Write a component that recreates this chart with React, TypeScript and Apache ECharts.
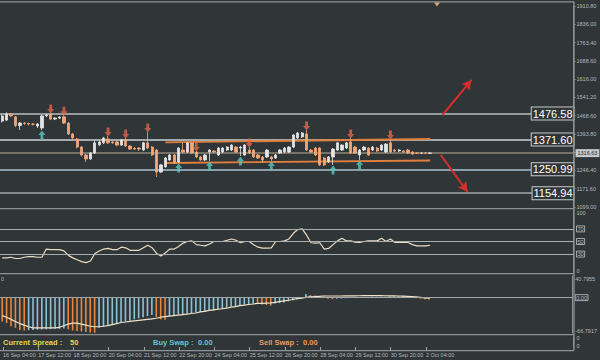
import React, { useEffect, useRef } from 'react';
import * as echarts from 'echarts';

// ---- data ----
const dateLabels = ['16 Sep 04:00', '17 Sep 12:00', '18 Sep 20:00', '20 Sep 04:00', '21 Sep 12:00', '22 Sep 20:00', '24 Sep 04:00', '25 Sep 12:00', '26 Sep 20:00', '28 Sep 04:00', '29 Sep 12:00', '30 Sep 20:00', '2 Oct 04:00'];
const SLOTS = 130; // 4H slots across the window (chart shifted left)

const opens = [1446,1450,1475,1463,1428,1438,1436,1434,1426,1418, 1467,1475,1454,1458,1463,1438,1394,1374,1341,1309, 1293,1317,1350,1358,1374,1362,1362,1349,1370,1345, 1336,1337,1329,1358,1341,1329,1240,1261,1289,1309, 1281,1329,1321,1358,1321,1301,1289,1321,1325,1309, 1321,1329,1329,1341,1337,1309,1329,1329,1309,1301, 1301,1301,1297,1317,1321,1321,1341,1378,1382,1394, 1329,1337,1337,1297,1281,1301,1329,1329,1337,1362, 1341,1309,1329,1337,1329,1337,1329,1321,1358,1329, 1325,1325,1329,1321,1317,1316,1317,1316];
const closes = [1467,1475,1467,1428,1438,1436,1434,1433,1434,1467, 1471,1454,1458,1462,1438,1394,1378,1341,1309,1293, 1317,1358,1362,1378,1358,1358,1349,1370,1345,1333, 1333,1333,1358,1337,1309,1240,1269,1297,1309,1277, 1337,1321,1358,1317,1301,1289,1309,1329,1321,1337, 1337,1341,1349,1321,1341,1349,1317,1301,1297,1289, 1329,1293,1309,1329,1337,1341,1390,1398,1398,1329, 1321,1309,1269,1269,1301,1333,1358,1349,1358,1317, 1317,1329,1341,1309,1341,1325,1349,1353,1321,1325, 1329,1321,1317,1313,1316,1317,1316,1317];
const lows = [1440,1446,1462,1422,1410,1430,1428,1428,1418,1410, 1462,1450,1450,1454,1434,1390,1372,1336,1303,1281, 1289,1313,1345,1353,1353,1354,1345,1345,1341,1329, 1329,1325,1325,1333,1305,1220,1236,1257,1285,1273, 1277,1315,1317,1313,1297,1285,1285,1285,1317,1305, 1317,1325,1325,1317,1305,1305,1313,1297,1293,1277, 1297,1285,1293,1313,1317,1317,1337,1374,1378,1325, 1317,1305,1265,1265,1277,1269,1325,1325,1333,1313, 1313,1289,1325,1305,1325,1321,1325,1317,1317,1321, 1321,1317,1313,1309,1313,1313,1313,1313];
const highs = [1471,1481,1479,1467,1442,1442,1440,1438,1438,1471, 1475,1479,1462,1466,1470,1442,1398,1378,1345,1313, 1321,1366,1366,1382,1386,1366,1366,1374,1378,1349, 1341,1341,1362,1402,1345,1333,1273,1301,1313,1313, 1341,1358,1362,1362,1325,1305,1313,1333,1329,1341, 1341,1345,1353,1345,1345,1353,1341,1333,1313,1305, 1333,1305,1313,1333,1341,1345,1394,1402,1402,1410, 1333,1341,1341,1301,1305,1337,1362,1353,1362,1378, 1345,1333,1345,1341,1345,1341,1353,1357,1374,1333, 1333,1329,1333,1325,1321,1320,1321,1319];

const buySignals = [9, 40, 47, 54, 61, 75, 81];
const sellSignals = [11, 14, 24, 28, 33, 44, 56, 69, 79, 88];

const levels = [1476.58, 1371.60, 1250.99, 1154.94];
const currentPrice = 1316.63;
const upperChannel = [[37, 1360], [97, 1373.6]];
const lowerChannel = [[37, 1276.7], [97, 1286.8]];
const upArrow = [[99.8, 1470.6], [106.4, 1612]];
const downArrow = [[99.4, 1309], [105.5, 1159.6]];

const priceTicks = [1099.00, 1171.60, 1246.40, 1318.60, 1393.80, 1468.60, 1541.20, 1616.00, 1688.60, 1763.40, 1836.00, 1910.80];

const rsi = [24, 24,25,23,23,25,26,26,25,25,38, 37,37,37,35,28,24,21,18,16.5,19, 31,35,38,39,37,37,41,40,36,36, 36,40,44,40,31,27,32,38,38,42, 47.5,50,51,45,44,43,46,50,50,50, 52,54,52,48,50,50,45,41,39.5,39.5, 40,50,50,51,54,63,69,70,60,48, 47.5,48,38,39,45,51,55,51,51,49, 48.5,50,51,51,51,55,50,54,48.5,48.5, 48.5,48.5,45,43,43,43,44];
const rsiLevels = [70, 50, 30];

const macdHist = [-45, -48,-54,-57,-61,-62,-61.5,-61,-60.5,-60,-60, -59.5,-59,-59,-58.5,-60,-62,-63,-64,-65,-66, -66.5,-57,-55,-53,-51,-49,-47,-45,-43,-41, -39,-37,-35,-33,-37,-41,-42,-35,-33,-32, -31,-30,-29,-28,-27,-26,-25,-24,-22,-21, -19,-17,-16,-15,-13,-12,-11,-12,-13,-14, -15,-11,-10,-9,-7,-5,-3,-1,7,5, 4,3,2,-2,-3,-2,-1.5,-1,-0.5,0, 0.5,1,1.2,1.4,1.5,1.6,1.8,2,2.1,2.2, 2.3,2.4,2.5,-1,-2,-3,-3.5];
const macdSignal = [-34, -37,-41,-45,-49,-52,-55,-57,-57,-57,-57, -57,-57,-56,-53,-50,-48,-48,-50,-52,-54, -55,-55,-54,-53,-51,-49,-47,-46,-45,-44, -43,-42,-41,-40,-39,-37,-36,-35,-34,-33, -32,-31,-30,-29,-27,-26,-24,-23,-22,-21, -20,-18,-17,-15,-14,-13,-12,-11,-11,-10.5, -10,-9,-7.5,-6,-5,-3.5,-2,-1,0.5,1.5, 2,2.5,3,3,3,3,3,3.2,3.3,3.4, 3.5,3.6,3.6,3.6,3.6,3.6,3.5,3.4,3.2,3, 2.8,2.5,2,1.5,0.5,-0.5,-1];
const macdMin = -66.7917;
const macdMax = 40.7955;

const currentSpread = 50;
const buySwap = 0.0;
const sellSwap = 0.0;

// ---- styling ----
const BG = '#303538';
const FRAME = '#8c9295';
const AXT = '#b4b9bc';
const FONT = 'Liberation Sans, Arial, sans-serif';
const UP = '#e4e4e4';
const DOWN = '#f2a878';
const LEFT = -3.7;
const RIGHT = 26.5;

const cats = Array.from({ length: SLOTS }, (_, i) => String(i));

function hiddenCat(gridIndex: number) {
  return {
    type: 'category', gridIndex, data: cats, boundaryGap: true,
    axisLine: { show: false }, axisTick: { show: false }, axisLabel: { show: false }, splitLine: { show: false },
  };
}

const lab = { fontSize: 5.5, color: AXT, fontFamily: FONT };
const rich = {
  b: { ...lab, borderColor: '#c2c6c9', borderWidth: 0.8, padding: [0, 1] },
  dn: { ...lab, padding: [6, 0, 0, 0] },
  dn2: { ...lab, padding: [2, 0, 0, 0] },
  up: { ...lab, padding: [0, 0, 5, 0] },
  up2: { ...lab, padding: [0, 0, 2, 0] },
};

function buildOption() {
  const candleData = opens.map((o, i) => [o, closes[i], lows[i], highs[i]]);
  const levelColors = ['#b9bec1', '#cdd2d5', '#a9c3d3', '#a0a6a9'];
  const upPath = 'path://M5,0 L10,5 L7,5 L7,10 L3,10 L3,5 L0,5 Z';
  const downPath = 'path://M3,0 L7,0 L7,5 L10,5 L5,10 L0,5 L3,5 Z';

  const frame = (y: number) => ({ type: 'line', silent: true, z: 100, shape: { x1: 0, y1: y, x2: 574, y2: y }, style: { stroke: FRAME, lineWidth: 1.3 } });
  const txt = (x: number, text: string, fill: string) => ({ type: 'text', silent: true, z: 101, x, y: 342, style: { text, fill, font: `bold 7.5px ${FONT}`, verticalAlign: 'middle', textVerticalAlign: 'middle' } });

  return {
    animation: false,
    backgroundColor: BG,
    grid: [
      { left: LEFT, right: RIGHT, top: 6, height: 201 },
      { left: LEFT, right: RIGHT, top: 210, height: 63 },
      { left: LEFT, right: RIGHT, top: 276, height: 57 },
      { left: LEFT, right: RIGHT, top: 337, height: 10 },
    ],
    xAxis: [
      hiddenCat(0),
      hiddenCat(1),
      hiddenCat(2),
      {
        type: 'category', gridIndex: 3, data: cats, boundaryGap: true,
        axisLine: { show: false },
        axisTick: { show: true, alignWithLabel: true, length: 3, interval: (i: number) => i % 8 === 0 && i / 8 < dateLabels.length, lineStyle: { color: '#a0a5a8' } },
        axisLabel: {
          show: true, interval: (i: number) => i % 8 === 0 && i / 8 < dateLabels.length,
          formatter: (v: string) => { const n = Number(v); return n % 8 === 0 ? (dateLabels[n / 8] ?? '') : ''; },
          align: 'left', ...lab, margin: 5,
        },
        splitLine: { show: false },
      },
      { type: 'value', gridIndex: 0, min: -0.5, max: SLOTS - 0.5, show: false },
    ],
    yAxis: [
      {
        type: 'value', gridIndex: 0, position: 'right', min: 1099, max: 1910.8, interval: 73.8,
        axisLine: { show: true, onZero: false, lineStyle: { color: FRAME } },
        axisTick: { show: true, length: 2, lineStyle: { color: FRAME } },
        axisLabel: {
          ...lab, margin: 3,
          formatter: (v: number) => {
            let best = priceTicks[0];
            for (const t of priceTicks) if (Math.abs(t - v) < Math.abs(best - v)) best = t;
            if (Math.abs(best - currentPrice) < 10) return '';
            return best.toFixed(2);
          },
        },
        splitLine: { show: false },
      },
      {
        type: 'value', gridIndex: 1, position: 'right', min: 0, max: 100, interval: 10,
        axisLine: { show: true, onZero: false, lineStyle: { color: FRAME } },
        axisTick: { show: false },
        axisLabel: {
          ...lab, margin: 3, rich,
          formatter: (v: number) => (v === 100 ? '{dn|100}' : v === 0 ? '{up|0}' : rsiLevels.includes(v) ? `{b|${v}}` : ''),
        },
        splitLine: { show: false },
      },
      {
        type: 'value', gridIndex: 2, position: 'right', min: macdMin, max: macdMax,
        axisLine: { show: true, onZero: false, lineStyle: { color: FRAME } },
        axisTick: { show: false },
        axisLabel: {
          ...lab, margin: 3, rich,
          formatter: (v: number) => (Math.abs(v - macdMax) < 1e-6 ? `{dn|${macdMax.toFixed(4)}}` : Math.abs(v - macdMin) < 1e-6 ? `{up|${macdMin.toFixed(4)}}` : v === 0 ? '{b|0.00}' : ''),
        },
        splitLine: { show: false },
      },
      {
        type: 'value', gridIndex: 3, position: 'right', min: 0, max: 1, interval: 1,
        axisLine: { show: true, onZero: false, lineStyle: { color: FRAME } },
        axisTick: { show: false },
        axisLabel: { ...lab, margin: 3, rich, formatter: (v: number) => (v === 1 ? '{dn2|0}' : '{up2|0}') },
        splitLine: { show: false },
      },
    ],
    series: [
      {
        type: 'candlestick', xAxisIndex: 0, yAxisIndex: 0, data: candleData, barWidth: 2.8, z: 4,
        itemStyle: { color: UP, color0: DOWN, borderColor: UP, borderColor0: DOWN, borderWidth: 0.8 },
        markLine: {
          silent: true, symbol: 'none', z: 3,
          data: [
            ...levels.map((v, k) => ({
              yAxis: v,
              lineStyle: { color: levelColors[k], width: 1.5, type: 'solid' },
              label: {
                show: true, position: 'insideEnd', distance: 0, formatter: v.toFixed(2),
                color: '#ffffff', fontSize: 11, fontFamily: FONT, backgroundColor: BG,
                borderColor: '#c8cbcd', borderWidth: 1, padding: [1, 1, 0, 1],
              },
            })),
            {
              yAxis: currentPrice,
              lineStyle: { color: '#8d8676', width: 1.5, type: 'solid' },
              label: {
                show: true, position: 'end', distance: 2, formatter: currentPrice.toFixed(2),
                color: '#2a2a2a', fontSize: 5.5, fontFamily: FONT, backgroundColor: '#c6c8c9', padding: [1, 2],
              },
            },
          ],
        },
      },
      {
        type: 'line', xAxisIndex: 4, yAxisIndex: 0, data: upperChannel, symbol: 'none', z: 3,
        lineStyle: { color: '#e0803f', width: 1.8 },
        markLine: {
          silent: true, symbol: ['none', 'arrow'], symbolSize: [8, 10],
          lineStyle: { color: '#d62f2a', width: 2, type: 'solid' },
          label: { show: false },
          data: [
            [{ coord: upArrow[0] }, { coord: upArrow[1] }],
            [{ coord: downArrow[0] }, { coord: downArrow[1] }],
          ],
        },
      },
      {
        type: 'line', xAxisIndex: 4, yAxisIndex: 0, data: lowerChannel, symbol: 'none', z: 3,
        lineStyle: { color: '#e0803f', width: 1.8 },
      },
      {
        type: 'scatter', xAxisIndex: 0, yAxisIndex: 0, z: 5,
        data: buySignals.map((j) => [j, lows[j]]),
        symbol: upPath, symbolSize: [7, 9], symbolOffset: [0, 5],
        itemStyle: { color: '#58c8c0' },
      },
      {
        type: 'scatter', xAxisIndex: 0, yAxisIndex: 0, z: 5,
        data: sellSignals.map((j) => [j, highs[j]]),
        symbol: downPath, symbolSize: [7, 9], symbolOffset: [0, -4],
        itemStyle: { color: '#e8634c' },
      },
      {
        type: 'line', xAxisIndex: 1, yAxisIndex: 1, data: rsi, symbol: 'none', z: 4,
        lineStyle: { color: '#eadcc2', width: 1.2 },
        markLine: {
          silent: true, symbol: 'none', label: { show: false },
          lineStyle: { color: '#a9aeb1', width: 1.2, type: 'solid' },
          data: rsiLevels.map((v) => ({ yAxis: v })),
        },
      },
      {
        type: 'bar', xAxisIndex: 2, yAxisIndex: 2, data: macdHist, barWidth: 1.6,
        itemStyle: {
          color: (p: any) => {
            const i = p.dataIndex;
            if (i === 0) return '#e8873d';
            return macdHist[i] < macdHist[i - 1] ? '#e8873d' : '#8ac3d5';
          },
        },
        markLine: {
          silent: true, symbol: 'none', label: { show: false },
          lineStyle: { color: '#a3a8ab', width: 1, type: 'solid' },
          data: [{ yAxis: 0 }],
        },
      },
      {
        type: 'line', xAxisIndex: 2, yAxisIndex: 2, data: macdSignal, symbol: 'none', z: 4,
        lineStyle: { color: '#f1e3c6', width: 1.2 },
      },
    ],
    graphic: [
      frame(1.8),
      frame(208.6),
      frame(273.6),
      frame(334.6),
      frame(350.6),
      { type: 'line', silent: true, z: 100, shape: { x1: 574, y1: 1.8, x2: 574, y2: 350.6 }, style: { stroke: FRAME, lineWidth: 1.3 } },
      { type: 'polygon', silent: true, z: 101, shape: { points: [[434, 2.5], [440, 2.5], [437, 6.5]] }, style: { fill: '#d4a878' } },
      { type: 'text', silent: true, z: 101, x: 1, y: 279, style: { text: '0', fill: AXT, font: `5.5px ${FONT}`, verticalAlign: 'middle', textVerticalAlign: 'middle' } },
      txt(3, 'Current Spread :', '#e8d64c'),
      txt(70, String(currentSpread), '#e8d64c'),
      txt(153, 'Buy Swap :', '#5cc6cb'),
      txt(198, buySwap.toFixed(2), '#5cc6cb'),
      txt(259, 'Sell Swap :', '#e89c5c'),
      txt(303, sellSwap.toFixed(2), '#e89c5c'),
    ],
  };
}

export default function App() {
  const ref = useRef<HTMLDivElement>(null);
  useEffect(() => {
    if (!ref.current) return;
    const chart = echarts.init(ref.current, null, { renderer: 'svg' });
    chart.setOption(buildOption() as any);
    return () => chart.dispose();
  }, []);
  return <div ref={ref} style={{ position: 'fixed', left: 0, top: 0, width: 600, height: 360, background: BG }} />;
}
